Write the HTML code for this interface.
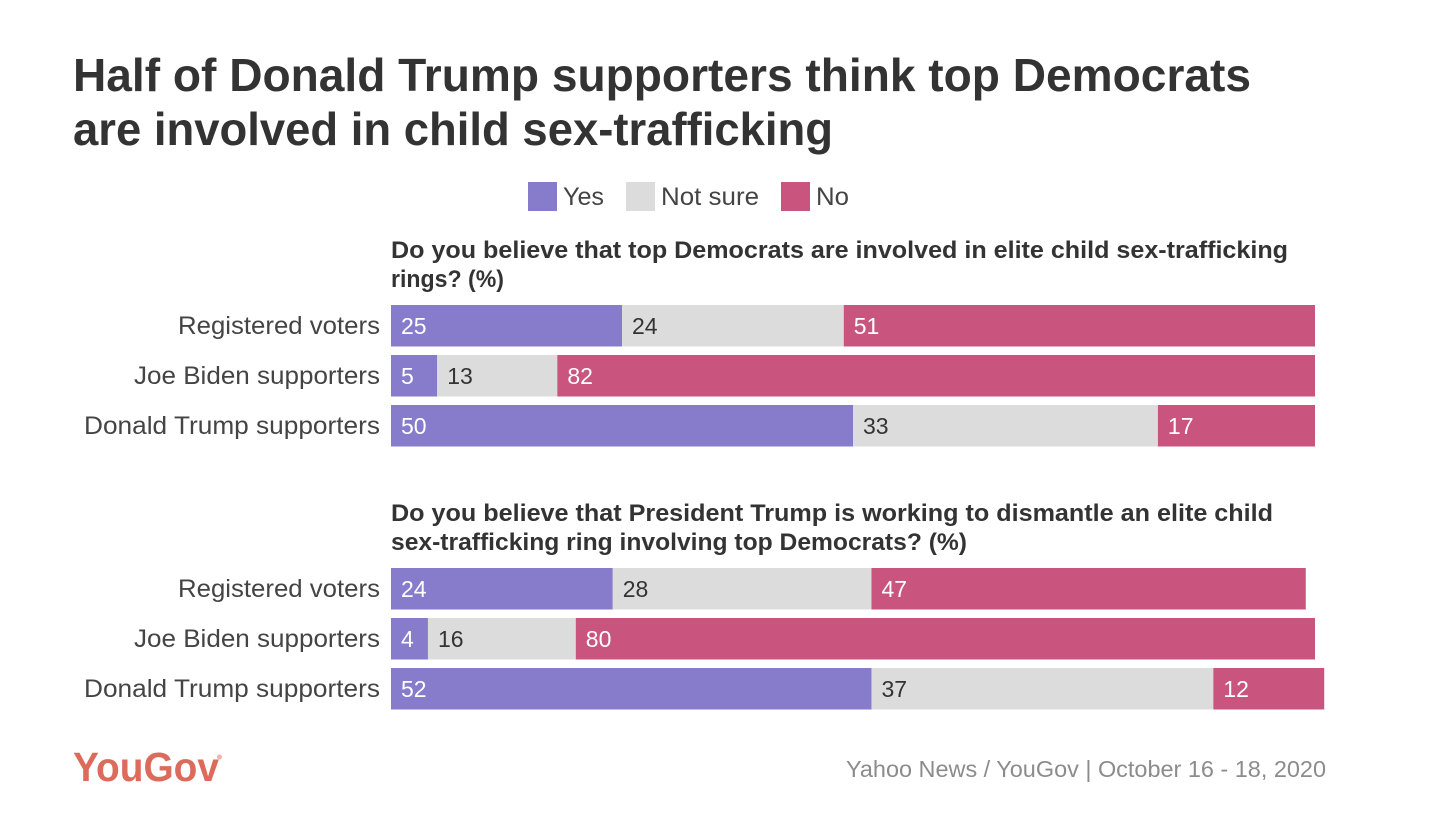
<!DOCTYPE html>
<html lang="en">
<head>
<meta charset="utf-8">
<title>YouGov chart</title>
<style>
html,body{margin:0;padding:0;background:#fff;}
svg{display:block;font-family:"Liberation Sans",sans-serif;}
</style>
</head>
<body>
<svg id="chart" width="1456" height="827" viewBox="0 0 1456 827" xmlns="http://www.w3.org/2000/svg">
  <rect x="0" y="0" width="1456" height="827" fill="#ffffff"/>
  <g font-size="46" font-weight="700" fill="#333333">
    <text x="73" y="91" textLength="1178" lengthAdjust="spacingAndGlyphs">Half of Donald Trump supporters think top Democrats</text>
    <text x="73" y="145" textLength="760" lengthAdjust="spacingAndGlyphs">are involved in child sex-trafficking</text>
  </g>
  <g font-size="25" fill="#444444">
    <rect x="528" y="182" width="29" height="29" fill="#877bcb"/>
    <text x="563" y="205" textLength="41" lengthAdjust="spacingAndGlyphs">Yes</text>
    <rect x="626" y="182" width="29" height="29" fill="#dcdcdc"/>
    <text x="661" y="205" textLength="98" lengthAdjust="spacingAndGlyphs">Not sure</text>
    <rect x="781" y="182" width="29" height="29" fill="#c9547d"/>
    <text x="816" y="205" textLength="33" lengthAdjust="spacingAndGlyphs">No</text>
  </g>
  <g font-size="24" font-weight="700" fill="#333333">
    <text x="391" y="258" textLength="897" lengthAdjust="spacingAndGlyphs">Do you believe that top Democrats are involved in elite child sex-trafficking</text>
    <text x="391" y="287" textLength="113" lengthAdjust="spacingAndGlyphs">rings? (%)</text>
  </g>
  <g font-size="24" font-weight="700" fill="#333333">
    <text x="391" y="521" textLength="882" lengthAdjust="spacingAndGlyphs">Do you believe that President Trump is working to dismantle an elite child</text>
    <text x="391" y="550" textLength="576" lengthAdjust="spacingAndGlyphs">sex-trafficking ring involving top Democrats? (%)</text>
  </g>
  <g id="bars"></g>
  <g fill="#dd6b5c">
    <text x="73" y="781" font-size="41" font-weight="700" textLength="146" lengthAdjust="spacingAndGlyphs">YouGov</text>
    <circle cx="219.5" cy="757" r="2.5" fill="#eeb5ad"/>
  </g>
  <text x="846" y="777" font-size="23" fill="#8c8c8c" textLength="480" lengthAdjust="spacingAndGlyphs">Yahoo News / YouGov | October 16 - 18, 2020</text>
</svg>
<script>
const categories = ["Registered voters", "Joe Biden supporters", "Donald Trump supporters"];
const q1Yes = [25, 5, 50];
const q1NotSure = [24, 13, 33];
const q1No = [51, 82, 17];
const q2Yes = [24, 4, 52];
const q2NotSure = [28, 16, 37];
const q2No = [47, 80, 12];

const NS = "http://www.w3.org/2000/svg";
const root = document.getElementById("bars");
const x0 = 391, unit = 9.24, barH = 41.5, step = 50;
const xScale = v => x0 + v * unit;
const labelWidths = [202, 246, 296];
const seriesFill = ["#877bcb", "#dcdcdc", "#c9547d"];
const seriesText = ["#ffffff", "#333333", "#ffffff"];
const seriesName = ["yes", "not-sure", "no"];

function make(tag, attrs, parent) {
  const el = document.createElementNS(NS, tag);
  for (const k in attrs) el.setAttribute(k, attrs[k]);
  parent.appendChild(el);
  return el;
}

function drawGroup(top, groupKey, series) {
  categories.forEach((cat, i) => {
    const y = top + i * step;
    const label = make("text", {x: 380 - labelWidths[i], y: y + 29, "font-size": 25, fill: "#444444", textLength: labelWidths[i], lengthAdjust: "spacingAndGlyphs"}, root);
    
    
    label.textContent = cat;
    let cum = 0;
    series.forEach((vals, s) => {
      const v = vals[i];
      const bar = make("rect", {x: xScale(cum), y: y, width: v * unit, height: barH, fill: seriesFill[s]}, root);
      
      
      const txt = make("text", {x: xScale(cum) + 10, y: y + 29, "font-size": 23, fill: seriesText[s]}, root);
      
      
      txt.textContent = v;
      cum += v;
    });
  });
}

drawGroup(305, "q1", [q1Yes, q1NotSure, q1No]);
drawGroup(568, "q2", [q2Yes, q2NotSure, q2No]);
</script>
</body>
</html>
